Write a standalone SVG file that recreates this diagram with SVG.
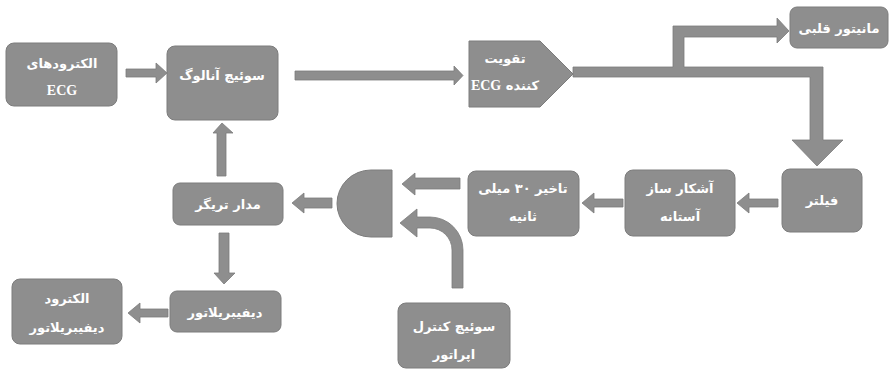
<svg xmlns="http://www.w3.org/2000/svg" width="893" height="370" viewBox="0 0 893 370">
<style>
.box{fill:#8e8e8e;stroke:#7c7c7c;stroke-width:1}
.arr{fill:#8e8e8e;stroke:#7c7c7c;stroke-width:0.8}
.t{font-family:"DejaVu Sans",sans-serif;font-size:13px;font-weight:bold;fill:#ffffff;text-anchor:middle;direction:rtl}
.e{font-family:"Liberation Serif",serif;font-size:14px;font-weight:bold;fill:#ffffff;text-anchor:middle}
.es{font-family:"Liberation Serif",serif;font-size:14px;font-weight:bold}
</style>
<rect width="893" height="370" fill="#ffffff"/>
<g id="connectors">
<path class="arr" d="M126,69 L156,69 L156,63 L167,73 L156,83 L156,77 L126,77 Z"/>
<path class="arr" d="M295,71 L454,71 L454,66 L463,75.5 L454,85 L454,80 L295,80 Z"/>
<path class="arr" d="M573,67 L673,67 L673,26 L777,26 L777,18 L789,31 L777,43 L777,37 L684,37 L684,67 L823,67 L823,140 L843,140 L817,166 L792,140 L810,140 L810,77 L573,77 Z"/>
<path class="arr" d="M778,199 L749,199 L749,193 L737,203 L749,213 L749,207 L778,207 Z"/>
<path class="arr" d="M623,199 L594,199 L594,193 L582,203 L594,213 L594,207 L623,207 Z"/>
<path class="arr" d="M460,178 L415,178 L415,173 L402,184 L415,195 L415,189 L460,189 Z"/>
<path class="arr" d="M400,223 L417,209 L417,217 L430,217 A33,33 0 0 1 463,250 L463,288 L452,288 L452,250 A22,22 0 0 0 430,228 L417,228 L417,237 Z"/>
<path class="arr" d="M332,198 L304,198 L304,193 L292,203 L304,213 L304,208 L332,208 Z"/>
<path class="arr" d="M217,176 L217,133 L213,133 L222,123 L233,133 L226,133 L226,176 Z"/>
<path class="arr" d="M219,233 L219,273 L214,273 L224,284 L235,273 L229,273 L229,233 Z"/>
<path class="arr" d="M168,309 L140,309 L140,303 L128,313 L140,323 L140,317 L168,317 Z"/>
</g>
<g id="electrodes_ecg">
<rect class="box" x="6" y="43" width="111" height="63" rx="8"/>
<text class="t" x="62" y="68">الکترودهای</text>
<text class="e" x="62" y="95">ECG</text>
</g>
<g id="analog_switch">
<rect class="box" x="167" y="46" width="111" height="74" rx="8"/>
<text class="t" x="222" y="80">سوئیچ آنالوگ</text>
</g>
<g id="ecg_amplifier">
<path class="box" d="M469,41 L540,41 L573,74 L540,107 L469,107 Z"/>
<text class="t" x="505" y="63">تقویت</text>
<text class="t" x="505" y="90">کننده <tspan class="es">ECG</tspan></text>
</g>
<g id="heart_monitor">
<rect class="box" x="790" y="7" width="98" height="41" rx="7"/>
<text class="t" x="839" y="33">مانیتور قلبی</text>
</g>
<g id="filter">
<rect class="box" x="782" y="169" width="80" height="63" rx="8"/>
<text class="t" x="822" y="205">فیلتر</text>
</g>
<g id="threshold_detector">
<rect class="box" x="625" y="170" width="110" height="66" rx="8"/>
<text class="t" x="680" y="193">آشکار ساز</text>
<text class="t" x="680" y="221">آستانه</text>
</g>
<g id="delay">
<rect class="box" x="468" y="171" width="111" height="65" rx="8"/>
<text class="t" x="523" y="193">تاخیر ۳۰ میلی</text>
<text class="t" x="523" y="221">ثانیه</text>
</g>
<g id="and_gate">
<path class="box" d="M392,170 L371,170 A34,33.5 0 0 0 371,237 L392,237 Z"/>
</g>
<g id="trigger_circuit">
<rect class="box" x="173" y="183" width="110" height="42" rx="7"/>
<text class="t" x="228" y="209">مدار تریگر</text>
</g>
<g id="defibrillator">
<rect class="box" x="170" y="291" width="111" height="41" rx="7"/>
<text class="t" x="225" y="317">دیفیبریلاتور</text>
</g>
<g id="defib_electrode">
<rect class="box" x="12" y="279" width="110" height="65" rx="8"/>
<text class="t" x="67" y="303">الکترود</text>
<text class="t" x="67" y="332">دیفیبریلاتور</text>
</g>
<g id="operator_switch">
<rect class="box" x="398" y="303" width="112" height="65" rx="8"/>
<text class="t" x="454" y="331">سوئیچ کنترل</text>
<text class="t" x="454" y="359">اپراتور</text>
</g>
</svg>
